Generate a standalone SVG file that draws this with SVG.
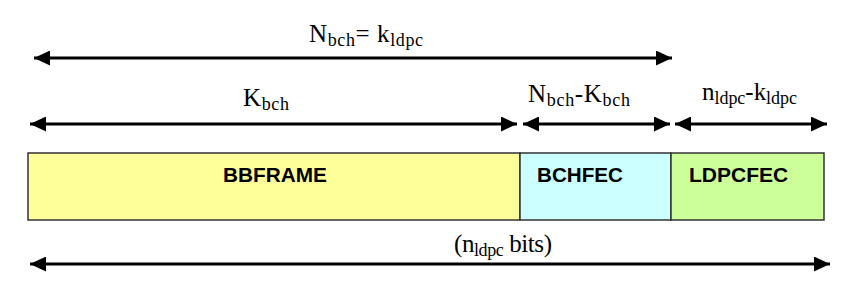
<svg xmlns="http://www.w3.org/2000/svg" width="865" height="290" viewBox="0 0 865 290">
<style>
.ln{stroke:#000;stroke-width:3;fill:none;marker-start:url(#ah);marker-end:url(#ah)}
.box{stroke:#333;stroke-width:1.5}
.bl{font-family:"Liberation Sans",Arial,sans-serif;font-weight:bold;font-size:21px;fill:#000}
.tl{font-family:"Liberation Serif","Times New Roman",serif;font-size:25px;fill:#000}
.sub{font-size:18px}
</style>
<defs>
<marker id="ah" viewBox="0 0 16 15" refX="16" refY="7.5" markerWidth="16" markerHeight="15" markerUnits="userSpaceOnUse" orient="auto-start-reverse">
<path d="M0,0 L16,7.5 L0,15 Z" fill="#000"/>
</marker>
</defs>
<rect width="865" height="290" fill="#fff"/>
<g id="connectors">
<line class="ln" x1="34" y1="58" x2="672" y2="58"/>
<line class="ln" x1="30" y1="124" x2="517" y2="124"/>
<line class="ln" x1="523" y1="124" x2="670" y2="124"/>
<line class="ln" x1="675" y1="124" x2="827" y2="124"/>
<line class="ln" x1="30" y1="264" x2="830" y2="264"/>
</g>
<g id="bbframe">
<rect class="box" x="28" y="153" width="492" height="67" fill="#FFFF99"/>
<text class="bl" x="223" y="182" textLength="104" lengthAdjust="spacingAndGlyphs">BBFRAME</text>
</g>
<g id="bchfec">
<rect class="box" x="520" y="153" width="151" height="67" fill="#CCFFFF"/>
<text class="bl" x="537" y="182" textLength="86" lengthAdjust="spacingAndGlyphs">BCHFEC</text>
</g>
<g id="ldpcfec">
<rect class="box" x="671" y="153" width="153" height="67" fill="#CCFF99"/>
<text class="bl" x="689" y="182">LDPCFEC</text>
</g>
<g id="labels">
<text class="tl" x="309" y="42" textLength="114">N<tspan class="sub" dy="4">bch</tspan><tspan dy="-4">= k</tspan><tspan class="sub" dy="4">ldpc</tspan></text>
<text class="tl" x="243" y="106" textLength="46">K<tspan class="sub" dy="4">bch</tspan></text>
<text class="tl" x="528" y="102" textLength="102">N<tspan class="sub" dy="4">bch</tspan><tspan dy="-4">-K</tspan><tspan class="sub" dy="4">bch</tspan></text>
<text class="tl" x="702" y="100" textLength="95">n<tspan class="sub" dy="4">ldpc</tspan><tspan dy="-4">-k</tspan><tspan class="sub" dy="4">ldpc</tspan></text>
<text class="tl" x="454" y="252" textLength="98">(n<tspan class="sub" dy="4">ldpc</tspan><tspan dy="-4"> bits)</tspan></text>
</g>
</svg>
